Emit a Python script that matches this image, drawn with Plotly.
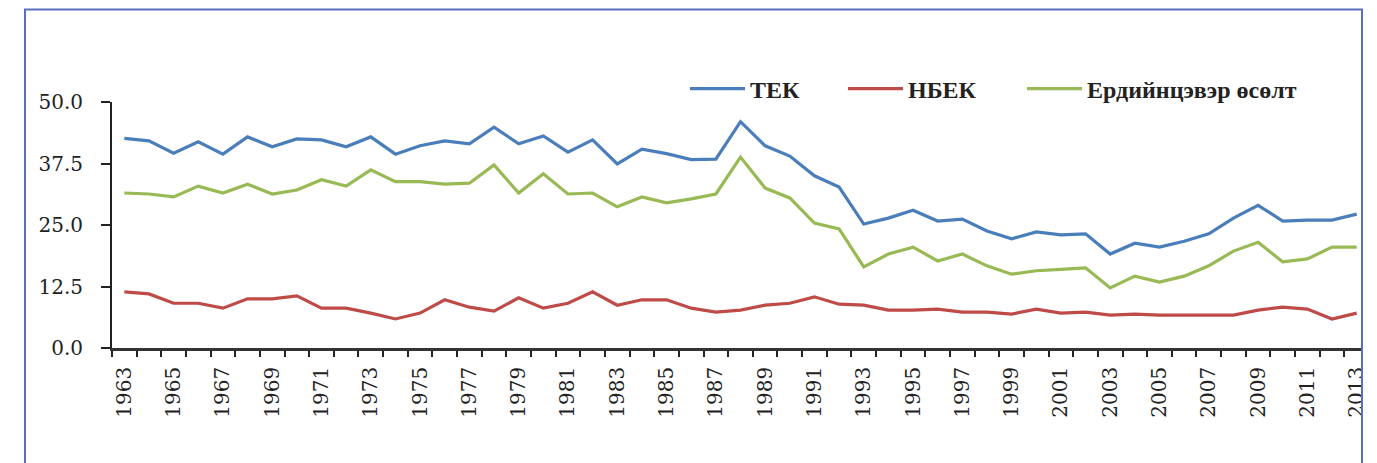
import plotly.graph_objects as go

years = list(range(1963, 2014))

tek = [42.6, 42.1, 39.6, 41.9, 39.4, 42.9, 40.9, 42.5, 42.3, 40.9,
       42.9, 39.4, 41.1, 42.1, 41.5, 44.9, 41.5, 43.1, 39.8, 42.3,
       37.4, 40.4, 39.5, 38.3, 38.4, 46.0, 41.1, 39.0, 35.0, 32.7,
       25.2, 26.4, 28.0, 25.8, 26.2, 23.8, 22.2, 23.6, 23.0, 23.2,
       19.1, 21.3, 20.5, 21.7, 23.2, 26.4, 29.0, 25.8, 26.0, 26.0, 27.2]

nbek = [11.4, 11.0, 9.1, 9.1, 8.1, 10.0, 10.0, 10.6, 8.1, 8.1,
        7.1, 5.9, 7.1, 9.8, 8.3, 7.5, 10.2, 8.1, 9.1, 11.4,
        8.7, 9.8, 9.8, 8.1, 7.3, 7.7, 8.7, 9.1, 10.4, 8.9,
        8.7, 7.7, 7.7, 7.9, 7.3, 7.3, 6.9, 7.9, 7.1, 7.3,
        6.7, 6.9, 6.7, 6.7, 6.7, 6.7, 7.7, 8.3, 7.9, 5.9, 7.1]

natural = [31.5, 31.3, 30.7, 32.9, 31.5, 33.3, 31.3, 32.1, 34.2, 32.9,
           36.2, 33.8, 33.8, 33.3, 33.5, 37.2, 31.5, 35.4, 31.3, 31.5,
           28.7, 30.7, 29.5, 30.3, 31.3, 38.8, 32.5, 30.5, 25.4, 24.2,
           16.5, 19.1, 20.5, 17.7, 19.1, 16.7, 15.0, 15.7, 16.0, 16.3,
           12.2, 14.6, 13.4, 14.6, 16.7, 19.7, 21.5, 17.5, 18.1, 20.5, 20.5]

series_names = ["ТЕК", "НБЕК", "Ердийнцэвэр өсөлт"]
series_colors = ["#4A7EBB", "#BE4B48", "#98B954"]
legend_ids = ["legend", "legend2", "legend3"]

y_ticks = [0.0, 12.5, 25.0, 37.5, 50.0]
x_label_years = list(range(1963, 2014, 2))

# page body has an 8px margin; work in screenshot coordinates and shift
OFF = 8
W, H = 1377 - OFF, 463 - OFF
L = 112 - OFF
T = 102 - OFF
R = W - (1369 - OFF)
B = H - (348 - OFF)
pw = W - L - R
ph = H - T - B


def px(xs):
    return (xs - OFF - L) / pw


def py(ys):
    return (H - B - (ys - OFF)) / ph


fig = go.Figure()
for name, vals, col, lg in zip(series_names, [tek, nbek, natural], series_colors, legend_ids):
    fig.add_trace(go.Scatter(x=years, y=vals, mode="lines", name=name,
                             legend=lg, line=dict(color=col, width=3.2)))

legend_font = dict(family="Liberation Serif", size=24, color="#222222", weight="bold")
legend_starts = [685, 843, 1022]
legend_layout = {}
for lg, xs in zip(legend_ids, legend_starts):
    legend_layout[lg] = dict(orientation="h", x=px(xs), xanchor="left",
                             y=py(89), yanchor="middle", itemwidth=55,
                             font=legend_font, bgcolor="rgba(0,0,0,0)")

tick_font = dict(family="DejaVu Serif", size=20, color="#222222")

fig.update_layout(
    width=W, height=H,
    margin=dict(l=L, r=R, t=T, b=B, pad=0),
    paper_bgcolor="white", plot_bgcolor="white",
    showlegend=True,
    xaxis=dict(range=[1962.5, 2013.5], showgrid=False, zeroline=False,
               showline=True, linecolor="#333333", linewidth=2.5,
               tickmode="array", tickvals=x_label_years,
               ticktext=[str(y) for y in x_label_years],
               ticks="", tickangle=-90, tickfont=tick_font,
               ticklabelstandoff=8,
               minor=dict(tickmode="linear", tick0=1962.5, dtick=1,
                          ticks="outside", ticklen=6, tickwidth=1.5,
                          tickcolor="#222222", showgrid=False)),
    yaxis=dict(range=[0, 50], showgrid=False, zeroline=False,
               showline=True, linecolor="#222222", linewidth=2,
               tickmode="array", tickvals=y_ticks,
               ticktext=[f"{v:.1f}" for v in y_ticks],
               ticks="outside", ticklen=9, tickwidth=1.5, tickcolor="#222222",
               tickfont=tick_font, ticklabelstandoff=14),
    shapes=[
        dict(type="rect", xref="paper", yref="paper",
             x0=px(1363), x1=px(1390), y0=py(480), y1=py(-10),
             fillcolor="white", line=dict(width=0), layer="above"),
        dict(type="rect", xref="paper", yref="paper",
             x0=px(25), x1=px(1362), y0=py(480), y1=py(9.5),
             fillcolor="rgba(0,0,0,0)", line=dict(color="#5A6FC0", width=2),
             layer="above"),
    ],
    **legend_layout,
)

fig.write_html("out.html")
